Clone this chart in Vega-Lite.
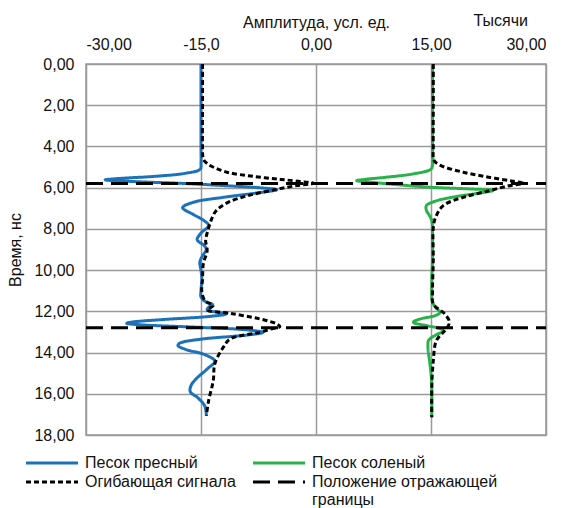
{
  "$schema": "https://vega.github.io/schema/vega-lite/v6.json",
  "autosize": "none",
  "width": 460,
  "height": 371,
  "padding": {"left": 86, "top": 64, "right": 22, "bottom": 73},
  "background": "white",
  "config": {
    "font": "Liberation Sans",
    "view": {"stroke": "#9a9a9a", "strokeWidth": 1.5},
    "axis": {"labelFont": "Liberation Sans", "titleFont": "Liberation Sans", "labelFontSize": 16, "titleFontSize": 16, "labelColor": "#111", "titleColor": "#111", "titleFontWeight": "normal", "gridColor": "#9a9a9a", "gridWidth": 1.5, "gridOpacity": 1, "domain": false, "ticks": false, "tickSize": 0}
  },
  "title": {"text": "Тысячи", "anchor": "end", "frame": "group", "fontSize": 16, "font": "Liberation Sans", "fontWeight": "normal", "color": "#111", "offset": -15, "dx": -18},
  "data": {"values": [
    {"s": "Песок пресный", "g": "b", "t": 0, "a": -15.0},
    {"s": "Песок пресный", "g": "b", "t": 2, "a": -15.0},
    {"s": "Песок пресный", "g": "b", "t": 4, "a": -15.0},
    {"s": "Песок пресный", "g": "b", "t": 4.8, "a": -15.0},
    {"s": "Песок пресный", "g": "b", "t": 5.1, "a": -15.1},
    {"s": "Песок пресный", "g": "b", "t": 5.3, "a": -17},
    {"s": "Песок пресный", "g": "b", "t": 5.45, "a": -21},
    {"s": "Песок пресный", "g": "b", "t": 5.55, "a": -25.5},
    {"s": "Песок пресный", "g": "b", "t": 5.62, "a": -27.5},
    {"s": "Песок пресный", "g": "b", "t": 5.7, "a": -24},
    {"s": "Песок пресный", "g": "b", "t": 5.8, "a": -17},
    {"s": "Песок пресный", "g": "b", "t": 5.9, "a": -12},
    {"s": "Песок пресный", "g": "b", "t": 6.0, "a": -7.5},
    {"s": "Песок пресный", "g": "b", "t": 6.1, "a": -5.1},
    {"s": "Песок пресный", "g": "b", "t": 6.22, "a": -7},
    {"s": "Песок пресный", "g": "b", "t": 6.47, "a": -12.1},
    {"s": "Песок пресный", "g": "b", "t": 6.71, "a": -16},
    {"s": "Песок пресный", "g": "b", "t": 6.97, "a": -17.4},
    {"s": "Песок пресный", "g": "b", "t": 7.3, "a": -16},
    {"s": "Песок пресный", "g": "b", "t": 7.6, "a": -14.6},
    {"s": "Песок пресный", "g": "b", "t": 7.84, "a": -14.0},
    {"s": "Песок пресный", "g": "b", "t": 8.2, "a": -15.0},
    {"s": "Песок пресный", "g": "b", "t": 8.53, "a": -15.5},
    {"s": "Песок пресный", "g": "b", "t": 8.8, "a": -14.6},
    {"s": "Песок пресный", "g": "b", "t": 9.0, "a": -14.3},
    {"s": "Песок пресный", "g": "b", "t": 9.3, "a": -14.8},
    {"s": "Песок пресный", "g": "b", "t": 9.62, "a": -15.15},
    {"s": "Песок пресный", "g": "b", "t": 10.0, "a": -15.0},
    {"s": "Песок пресный", "g": "b", "t": 10.43, "a": -14.9},
    {"s": "Песок пресный", "g": "b", "t": 11.0, "a": -15.0},
    {"s": "Песок пресный", "g": "b", "t": 11.3, "a": -15.0},
    {"s": "Песок пресный", "g": "b", "t": 11.56, "a": -14.3},
    {"s": "Песок пресный", "g": "b", "t": 11.67, "a": -13.5},
    {"s": "Песок пресный", "g": "b", "t": 11.8, "a": -14.0},
    {"s": "Песок пресный", "g": "b", "t": 11.92, "a": -14.2},
    {"s": "Песок пресный", "g": "b", "t": 12.05, "a": -12.8},
    {"s": "Песок пресный", "g": "b", "t": 12.13, "a": -11.7},
    {"s": "Песок пресный", "g": "b", "t": 12.25, "a": -14},
    {"s": "Песок пресный", "g": "b", "t": 12.4, "a": -20},
    {"s": "Песок пресный", "g": "b", "t": 12.52, "a": -24},
    {"s": "Песок пресный", "g": "b", "t": 12.58, "a": -24.7},
    {"s": "Песок пресный", "g": "b", "t": 12.65, "a": -23},
    {"s": "Песок пресный", "g": "b", "t": 12.78, "a": -15},
    {"s": "Песок пресный", "g": "b", "t": 12.9, "a": -9},
    {"s": "Песок пресный", "g": "b", "t": 13.02, "a": -6.9},
    {"s": "Песок пресный", "g": "b", "t": 13.15, "a": -9},
    {"s": "Песок пресный", "g": "b", "t": 13.35, "a": -15},
    {"s": "Песок пресный", "g": "b", "t": 13.55, "a": -17.8},
    {"s": "Песок пресный", "g": "b", "t": 13.66, "a": -18.0},
    {"s": "Песок пресный", "g": "b", "t": 13.85, "a": -17},
    {"s": "Песок пресный", "g": "b", "t": 14.1, "a": -14.5},
    {"s": "Песок пресный", "g": "b", "t": 14.42, "a": -13.2},
    {"s": "Песок пресный", "g": "b", "t": 14.8, "a": -14.2},
    {"s": "Песок пресный", "g": "b", "t": 15.3, "a": -15.7},
    {"s": "Песок пресный", "g": "b", "t": 15.6, "a": -16.3},
    {"s": "Песок пресный", "g": "b", "t": 15.9, "a": -16.4},
    {"s": "Песок пресный", "g": "b", "t": 16.2, "a": -15.4},
    {"s": "Песок пресный", "g": "b", "t": 16.6, "a": -14.5},
    {"s": "Песок пресный", "g": "b", "t": 17.06, "a": -14.3},

    {"s": "Песок соленый", "g": "gr", "t": 0, "a": 15.2},
    {"s": "Песок соленый", "g": "gr", "t": 2, "a": 15.2},
    {"s": "Песок соленый", "g": "gr", "t": 4, "a": 15.2},
    {"s": "Песок соленый", "g": "gr", "t": 4.9, "a": 15.2},
    {"s": "Песок соленый", "g": "gr", "t": 5.1, "a": 15.0},
    {"s": "Песок соленый", "g": "gr", "t": 5.33, "a": 12.7},
    {"s": "Песок соленый", "g": "gr", "t": 5.5, "a": 9},
    {"s": "Песок соленый", "g": "gr", "t": 5.6, "a": 6.3},
    {"s": "Песок соленый", "g": "gr", "t": 5.66, "a": 5.3},
    {"s": "Песок соленый", "g": "gr", "t": 5.75, "a": 7.5},
    {"s": "Песок соленый", "g": "gr", "t": 5.98, "a": 15},
    {"s": "Песок соленый", "g": "gr", "t": 6.06, "a": 20},
    {"s": "Песок соленый", "g": "gr", "t": 6.13, "a": 23.1},
    {"s": "Песок соленый", "g": "gr", "t": 6.25, "a": 21.5},
    {"s": "Песок соленый", "g": "gr", "t": 6.45, "a": 18},
    {"s": "Песок соленый", "g": "gr", "t": 6.65, "a": 15.6},
    {"s": "Песок соленый", "g": "gr", "t": 6.87, "a": 14.4},
    {"s": "Песок соленый", "g": "gr", "t": 7.1, "a": 14.4},
    {"s": "Песок соленый", "g": "gr", "t": 7.35, "a": 14.8},
    {"s": "Песок соленый", "g": "gr", "t": 7.6, "a": 15.1},
    {"s": "Песок соленый", "g": "gr", "t": 8.5, "a": 15.2},
    {"s": "Песок соленый", "g": "gr", "t": 9.5, "a": 15.2},
    {"s": "Песок соленый", "g": "gr", "t": 10.5, "a": 15.1},
    {"s": "Песок соленый", "g": "gr", "t": 11.56, "a": 15.2},
    {"s": "Песок соленый", "g": "gr", "t": 11.85, "a": 15.7},
    {"s": "Песок соленый", "g": "gr", "t": 12.05, "a": 16.2},
    {"s": "Песок соленый", "g": "gr", "t": 12.2, "a": 15.6},
    {"s": "Песок соленый", "g": "gr", "t": 12.38, "a": 13.5},
    {"s": "Песок соленый", "g": "gr", "t": 12.53, "a": 12.7},
    {"s": "Песок соленый", "g": "gr", "t": 12.7, "a": 14.5},
    {"s": "Песок соленый", "g": "gr", "t": 12.85, "a": 16.3},
    {"s": "Песок соленый", "g": "gr", "t": 12.96, "a": 16.6},
    {"s": "Песок соленый", "g": "gr", "t": 13.15, "a": 15.6},
    {"s": "Песок соленый", "g": "gr", "t": 13.4, "a": 14.7},
    {"s": "Песок соленый", "g": "gr", "t": 13.7, "a": 14.6},
    {"s": "Песок соленый", "g": "gr", "t": 14.39, "a": 14.8},
    {"s": "Песок соленый", "g": "gr", "t": 15.0, "a": 15.0},
    {"s": "Песок соленый", "g": "gr", "t": 15.7, "a": 15.1},
    {"s": "Песок соленый", "g": "gr", "t": 17.14, "a": 15.1},

    {"s": "Огибающая сигнала", "g": "e1", "t": 0, "a": -14.8},
    {"s": "Огибающая сигнала", "g": "e1", "t": 2, "a": -14.8},
    {"s": "Огибающая сигнала", "g": "e1", "t": 4, "a": -14.8},
    {"s": "Огибающая сигнала", "g": "e1", "t": 4.6, "a": -14.7},
    {"s": "Огибающая сигнала", "g": "e1", "t": 4.8, "a": -14.3},
    {"s": "Огибающая сигнала", "g": "e1", "t": 4.95, "a": -13.7},
    {"s": "Огибающая сигнала", "g": "e1", "t": 5.25, "a": -11.6},
    {"s": "Огибающая сигнала", "g": "e1", "t": 5.45, "a": -8.2},
    {"s": "Огибающая сигнала", "g": "e1", "t": 5.6, "a": -4.6},
    {"s": "Огибающая сигнала", "g": "e1", "t": 5.72, "a": -1.5},
    {"s": "Огибающая сигнала", "g": "e1", "t": 5.79, "a": -0.3},
    {"s": "Огибающая сигнала", "g": "e1", "t": 5.9, "a": -2.5},
    {"s": "Огибающая сигнала", "g": "e1", "t": 6.08, "a": -5.1},
    {"s": "Огибающая сигнала", "g": "e1", "t": 6.38, "a": -8.8},
    {"s": "Огибающая сигнала", "g": "e1", "t": 6.7, "a": -11.4},
    {"s": "Огибающая сигнала", "g": "e1", "t": 7.11, "a": -13.0},
    {"s": "Огибающая сигнала", "g": "e1", "t": 7.6, "a": -13.7},
    {"s": "Огибающая сигнала", "g": "e1", "t": 8.08, "a": -14.1},
    {"s": "Огибающая сигнала", "g": "e1", "t": 8.56, "a": -14.4},
    {"s": "Огибающая сигнала", "g": "e1", "t": 9.05, "a": -14.2},
    {"s": "Огибающая сигнала", "g": "e1", "t": 9.7, "a": -14.7},
    {"s": "Огибающая сигнала", "g": "e1", "t": 10.43, "a": -14.8},
    {"s": "Огибающая сигнала", "g": "e1", "t": 11.0, "a": -14.9},
    {"s": "Огибающая сигнала", "g": "e1", "t": 11.48, "a": -14.5},
    {"s": "Огибающая сигнала", "g": "e1", "t": 11.72, "a": -13.4},
    {"s": "Огибающая сигнала", "g": "e1", "t": 11.93, "a": -14.2},
    {"s": "Огибающая сигнала", "g": "e1", "t": 12.1, "a": -11.2},
    {"s": "Огибающая сигнала", "g": "e1", "t": 12.37, "a": -7.3},
    {"s": "Огибающая сигнала", "g": "e1", "t": 12.6, "a": -5.2},
    {"s": "Огибающая сигнала", "g": "e1", "t": 12.74, "a": -4.7},
    {"s": "Огибающая сигнала", "g": "e1", "t": 12.87, "a": -6},
    {"s": "Огибающая сигнала", "g": "e1", "t": 13.02, "a": -7.3},
    {"s": "Огибающая сигнала", "g": "e1", "t": 13.34, "a": -11.2},
    {"s": "Огибающая сигнала", "g": "e1", "t": 13.75, "a": -12.1},
    {"s": "Огибающая сигнала", "g": "e1", "t": 14.55, "a": -13.2},
    {"s": "Огибающая сигнала", "g": "e1", "t": 15.36, "a": -13.4},
    {"s": "Огибающая сигнала", "g": "e1", "t": 16.33, "a": -14.0},
    {"s": "Огибающая сигнала", "g": "e1", "t": 17.06, "a": -14.3},

    {"s": "Огибающая сигнала", "g": "e2", "t": 0, "a": 15.3},
    {"s": "Огибающая сигнала", "g": "e2", "t": 2, "a": 15.3},
    {"s": "Огибающая сигнала", "g": "e2", "t": 4, "a": 15.3},
    {"s": "Огибающая сигнала", "g": "e2", "t": 4.68, "a": 15.4},
    {"s": "Огибающая сигнала", "g": "e2", "t": 4.93, "a": 16.3},
    {"s": "Огибающая сигнала", "g": "e2", "t": 5.25, "a": 19.2},
    {"s": "Огибающая сигнала", "g": "e2", "t": 5.49, "a": 22.5},
    {"s": "Огибающая сигнала", "g": "e2", "t": 5.68, "a": 25.5},
    {"s": "Огибающая сигнала", "g": "e2", "t": 5.79, "a": 27.0},
    {"s": "Огибающая сигнала", "g": "e2", "t": 5.92, "a": 25},
    {"s": "Огибающая сигнала", "g": "e2", "t": 6.14, "a": 22.7},
    {"s": "Огибающая сигнала", "g": "e2", "t": 6.47, "a": 19.2},
    {"s": "Огибающая сигнала", "g": "e2", "t": 6.87, "a": 16.6},
    {"s": "Огибающая сигнала", "g": "e2", "t": 7.44, "a": 15.6},
    {"s": "Огибающая сигнала", "g": "e2", "t": 7.92, "a": 15.3},
    {"s": "Огибающая сигнала", "g": "e2", "t": 9.5, "a": 15.3},
    {"s": "Огибающая сигнала", "g": "e2", "t": 11.0, "a": 15.2},
    {"s": "Огибающая сигнала", "g": "e2", "t": 11.64, "a": 15.3},
    {"s": "Огибающая сигнала", "g": "e2", "t": 12.13, "a": 16.8},
    {"s": "Огибающая сигнала", "g": "e2", "t": 12.53, "a": 17.4},
    {"s": "Огибающая сигнала", "g": "e2", "t": 12.94, "a": 16.8},
    {"s": "Огибающая сигнала", "g": "e2", "t": 13.42, "a": 15.7},
    {"s": "Огибающая сигнала", "g": "e2", "t": 14.39, "a": 15.3},
    {"s": "Огибающая сигнала", "g": "e2", "t": 15.7, "a": 15.1},
    {"s": "Огибающая сигнала", "g": "e2", "t": 17.14, "a": 15.1},

    {"s": "Положение отражающей границы", "g": "h1", "t": 5.8, "a": -30},
    {"s": "Положение отражающей границы", "g": "h1", "t": 5.8, "a": 30},
    {"s": "Положение отражающей границы", "g": "h2", "t": 12.8, "a": -30},
    {"s": "Положение отражающей границы", "g": "h2", "t": 12.8, "a": 30}
  ]},
  "mark": {"type": "line", "interpolate": "catmull-rom", "clip": false},
  "encoding": {
    "x": {"field": "a", "type": "quantitative", "scale": {"domain": [-30, 30], "nice": false, "zero": false},
      "axis": {"orient": "top", "values": [-30, -15, 0, 15, 30], "title": "Амплитуда, усл. ед.", "titlePadding": 6, "labelPadding": 12,
        "labelExpr": "datum.value == -15 ? '-15,0' : replace(replace(format(datum.value, '.2f'), '.', ','), '−', '-')"}},
    "y": {"field": "t", "type": "quantitative", "scale": {"domain": [0, 18], "reverse": true, "nice": false, "zero": false},
      "axis": {"values": [0, 2, 4, 6, 8, 10, 12, 14, 16, 18], "title": "Время, нс", "titlePadding": 10, "labelPadding": 12,
        "labelExpr": "replace(format(datum.value, '.2f'), '.', ',')"}},
    "detail": {"field": "g"},
    "order": {"field": "t", "type": "quantitative"},
    "color": {"field": "s", "type": "nominal",
      "scale": {"domain": ["Песок пресный", "Песок соленый", "Огибающая сигнала", "Положение отражающей границы"], "range": ["#1b72ba", "#29b24a", "#000000", "#000000"]},
      "legend": {"title": null, "orient": "none", "direction": "horizontal", "legendX": -42, "legendY": 391, "columns": 2, "columnPadding": 11, "rowPadding": 3,
        "symbolType": "M-5.2,0L5.2,0", "symbolSize": 100, "symbolStrokeWidth": 2.5, "labelOffset": 25, "labelFontSize": 16, "labelFont": "Liberation Sans", "labelColor": "#111", "labelLimit": 300,
        "labelExpr": "datum.label == 'Положение отражающей границы' ? ['Положение отражающей', 'границы'] : datum.label"}},
    "strokeDash": {"field": "s", "type": "nominal",
      "scale": {"domain": ["Песок пресный", "Песок соленый", "Огибающая сигнала", "Положение отражающей границы"], "range": [[1, 0], [1, 0], [5, 3], [17, 8]]}},
    "strokeWidth": {"field": "s", "type": "nominal", "legend": null,
      "scale": {"domain": ["Песок пресный", "Песок соленый", "Огибающая сигнала", "Положение отражающей границы"], "range": [3, 3, 2.2, 2.5]}}
  }
}
